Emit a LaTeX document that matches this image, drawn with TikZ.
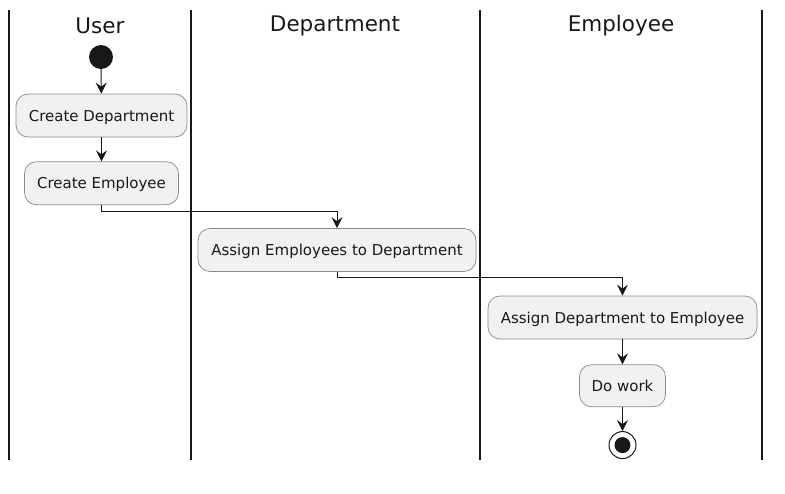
\documentclass[tikz,border=0pt]{standalone}
\usepackage{fontspec}
\setmainfont{DejaVu Sans}
\usepackage{tikz}
\usetikzlibrary{arrows.meta, positioning, calc}

\definecolor{actfill}{HTML}{F1F1F1}
\definecolor{actline}{HTML}{8A8A8A}
\definecolor{ink}{HTML}{181818}

\begin{document}
\begin{tikzpicture}[
    x=1pt, y=-1pt,
    act/.style={draw=actline, fill=actfill, line width=0.7pt, rounded corners=12pt,
        minimum height=43pt, inner sep=0pt, text height=12.5pt, text depth=1.5pt,
        text=ink, font=\fontsize{15}{18}\selectfont},
    lane/.style={text=ink, font=\fontsize{21.5}{26}\selectfont},
    startdot/.style={circle, fill=ink, inner sep=0pt, minimum size=24pt},
    stopdot/.style={circle, draw=ink, fill=white, line width=1pt, inner sep=0pt, minimum size=27pt,
        path picture={\fill[ink] (path picture bounding box.center) circle (8pt);}},
    node distance=24pt,
    >={Stealth[length=11pt, width=11pt, inset=4pt]}
]
\useasboundingbox (0,0) rectangle (785,493);

% Swimlane borders
\foreach \lx in {9, 191, 480, 762}
    \draw[ink, line width=1.4pt] (\lx,10) -- (\lx,460);

% Lane titles
\node[lane] (user_t) at (100,26) {User};
\node[lane] (dept_t) at (335,26) {Department};
\node[lane] (emp_t) at (621,26) {Employee};

% Lane: User
\node[startdot] (start) at (101,57) {};
\node[act, minimum width=171pt] (mk_dept) at (101.5,115.5) {Create Department};
\node[act, minimum width=154pt, below=24pt of mk_dept] (mk_emp) {Create Employee};

% Lane: Department
\node[act, minimum width=278pt] (asg_emp) at (337,250) {Assign Employees to Department};

% Lane: Employee
\node[act, minimum width=269pt] (asg_dept) at (622.5,317.5) {Assign Department to Employee};
\node[act, minimum width=86pt, minimum height=42pt, below=25pt of asg_dept] (work) {Do work};
\node[stopdot, below=24pt of work] (stop) {};

% Flow
\draw[->, ink, line width=1pt] (start) -- (mk_dept);
\draw[->, ink, line width=1pt] (mk_dept) -- (mk_emp);
\draw[->, ink, line width=1pt] (mk_emp.south) -- ++(0,6) -| (asg_emp.north);
\draw[->, ink, line width=1pt] (asg_emp.south) -- ++(0,6) -| (asg_dept.north);
\draw[->, ink, line width=1pt] (asg_dept) -- (work);
\draw[->, ink, line width=1pt] (work) -- (stop);

\end{tikzpicture}
\end{document}
